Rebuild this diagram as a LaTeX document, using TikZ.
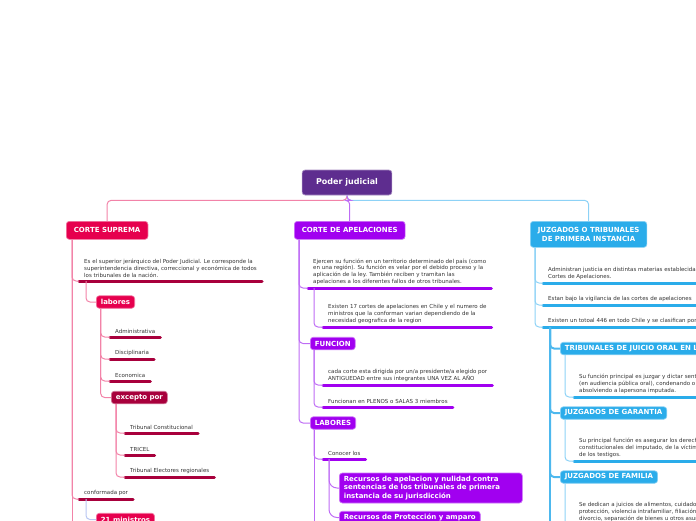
\documentclass[tikz,border=0pt]{standalone}
\usepackage{fontspec}
\setmainfont{DejaVu Sans}
\definecolor{raiz}{HTML}{5E2D8F}
\definecolor{suprema}{HTML}{E6004E}
\definecolor{supremaosc}{HTML}{A8003C}
\definecolor{supremalin}{HTML}{F283A8}
\definecolor{apelac}{HTML}{A100F0}
\definecolor{apelaclin}{HTML}{BE6CF5}
\definecolor{juzgado}{HTML}{2AACEA}
\definecolor{juzgadolin}{HTML}{8DD2F6}
\definecolor{juzgadomed}{HTML}{4DB8EE}
\definecolor{lavanda}{HTML}{B8C6F2}
\definecolor{texto}{HTML}{333333}
\newcommand{\notafont}{\fontsize{5.5}{6.8}\selectfont}
\newcommand{\cajafont}{\fontsize{7}{8.6}\selectfont\bfseries}
\tikzset{
  caja/.style={fill=#1, draw=#1!55!white, line width=0.7pt, rounded corners=3pt, text=white,
    font=\cajafont, align=left, inner xsep=4.5pt, inner ysep=0pt, minimum height=12.5pt, anchor=west},
  cajagrande/.style={caja=#1, inner xsep=7.5pt, minimum height=18pt, anchor=north west},
  nota/.style={font=\notafont, text=texto, align=left, inner xsep=5pt, inner ysep=3.2pt, anchor=south west,
    append after command={(\tikzlastnode.south west) edge[draw=#1, line width=3pt, line cap=round] (\tikzlastnode.south east)}},
  rama/.style={draw=#1, line width=1pt, rounded corners=4pt},
}
\begin{document}
\begin{tikzpicture}[x=1pt,y=-1pt]
  \useasboundingbox (0,0) rectangle (696,520);
  \clip (0,0) rectangle (696,520);

  \node[caja=raiz, font=\fontsize{8}{9}\selectfont\bfseries, inner xsep=14pt, minimum height=25pt, anchor=center] (raiz) at (347,182.5) {Poder judicial};
  \node[cajagrande=suprema] (cs) at (66,221) {CORTE SUPREMA};
  \node[cajagrande=apelac] (ca) at (294,221) {CORTE DE APELACIONES};
  \node[cajagrande=juzgado, align=center, minimum height=26pt] (jz) at (530,221) {JUZGADOS O TRIBUNALES\\DE PRIMERA INSTANCIA};

  \draw[rama=supremalin] (raiz.south) -- ++(0,5) -| (cs.north);
  \draw[rama=juzgadolin] (raiz.south) -- ++(0,5) -| (jz.north);
  \draw[rama=apelaclin] (raiz.south) -- ++(0,5) -| (ca.north);

  % corte suprema
  \node[nota=supremaosc] (cs1) at (79,281) {Es el superior jerárquico del Poder Judicial. Le corresponde la\\superintendencia directiva, correccional y económica de todos\\los tribunales de la nación.};
  \node[caja=suprema] (cslab) at (96,302) {labores};
  \node[nota=supremaosc] (adm) at (110,337) {Administrativa};
  \node[nota=supremaosc] (dis) at (110,359) {Disciplinaria};
  \node[nota=supremaosc] (eco) at (110,381) {Economica};
  \node[caja=supremaosc] (exc) at (111,397.5) {excepto por};
  \node[nota=supremaosc] (tc) at (125,433) {Tribunal Constitucional};
  \node[nota=supremaosc] (tri) at (125,455) {TRICEL};
  \node[nota=supremaosc] (ter) at (125,477) {Tribunal Electores regionales};
  \node[nota=supremaosc] (conf) at (79,499) {conformada por};
  \node[caja=suprema] (min) at (96,519.5) {21 ministros};
  \coordinate (csfin) at (72,530);

  \draw[rama=supremalin] ([xshift=6pt]cs.south west) -- (csfin);
  \foreach \n in {cs1,conf} \draw[rama=supremalin] ([xshift=6pt]cs.south west) |- (\n.south west);
  \draw[rama=supremalin] ([xshift=7pt]cs1.south west) |- (cslab.west);
  \foreach \n in {adm,dis,eco} \draw[rama=supremalin] ([xshift=4.7pt]cslab.south west) |- (\n.south west);
  \draw[rama=supremalin] ([xshift=4.7pt]cslab.south west) |- (exc.west);
  \foreach \n in {tc,tri,ter} \draw[rama=supremalin] ([xshift=5pt]exc.south west) |- (\n.south west);
  \draw[rama=lavanda] ([xshift=7pt]conf.south west) |- (min.west);

  % corte de apelaciones
  \node[nota=apelac] (ca1) at (308,288) {Ejercen su función en un territorio determinado del país (como\\en una región). Su función es velar por el debido proceso y la\\aplicación de la ley. También reciben y tramitan las\\apelaciones a los diferentes fallos de otros tribunales.};
  \node[nota=apelac] (ca2) at (323,327) {Existen 17 cortes de apelaciones en Chile y el numero de\\ministros que la conforman varian dependiendo de la\\necesidad geografica de la region};
  \node[caja=apelac] (fun) at (310,343.5) {FUNCION};
  \node[nota=apelac] (fun1) at (323,385) {cada corte esta dirigida por un/a presidente/a elegido por\\ANTIGUEDAD entre sus integrantes UNA VEZ AL AÑO};
  \node[nota=apelac] (fun2) at (323,407) {Funcionan en PLENOS o SALAS 3 miembros};
  \node[caja=apelac] (lab2) at (310,423) {LABORES};
  \node[nota=apelac] (con) at (323,459) {Conocer los};
  \node[caja=apelac, minimum height=30pt, text width=174pt, font=\fontsize{7}{8.4}\selectfont\bfseries] (rec1) at (339,488) {Recursos de apelacion y nulidad contra\\sentencias de los tribunales de primera\\instancia de su jurisdicción};
  \node[caja=apelac] (rec2) at (339,517.5) {Recursos de Protección y amparo};
  \coordinate (cafin) at (314,530);

  \draw[rama=apelaclin] ([xshift=5pt]ca.south west) |- (ca1.south west);
  \draw[rama=apelaclin] ([xshift=5pt]ca.south west) |- (fun.west);
  \draw[rama=apelaclin] ([xshift=5pt]ca.south west) |- (lab2.west);
  \draw[rama=apelaclin] ([xshift=6pt]ca1.south west) |- (ca2.south west);
  \foreach \n in {fun1,fun2} \draw[rama=apelaclin] ([xshift=4pt]fun.south west) |- (\n.south west);
  \draw[rama=apelaclin] ([xshift=4pt]lab2.south west) |- (con.south west);
  \draw[rama=apelaclin] ([xshift=4pt]lab2.south west) -- (cafin);
  \foreach \n in {rec1,rec2} \draw[rama=apelaclin, rounded corners=8pt] ([xshift=6pt]con.south west) |- (\n.west);

  % juzgados
  \node[nota=juzgado] (jz1) at (543,283) {Administran justicia en distintas materias establecidas por ley y son supervisados por las\\Cortes de Apelaciones.};
  \node[nota=juzgado] (jz2) at (543,305) {Estan bajo la vigilancia de las cortes de apelaciones};
  \node[nota=juzgado] (jz3) at (543,327) {Existen un totoal 446 en todo Chile y se clasifican por:};
  \node[caja=juzgado] (jo) at (560,348.5) {TRIBUNALES DE JUICIO ORAL EN LO PENAL};
  \node[nota=juzgado] (jo1) at (574,397) {Su función principal es juzgar y dictar sentencia\\(en audiencia pública oral), condenando o\\absolviendo a lapersona imputada.};
  \node[caja=juzgado] (jg) at (560,413) {JUZGADOS DE GARANTIA};
  \node[nota=juzgado] (jg1) at (574,461) {Su principal función es asegurar los derechos\\constitucionales del imputado, de la víctima y\\de los testigos.};
  \node[caja=juzgado] (jf) at (560,477) {JUZGADOS DE FAMILIA};
  \node[nota=juzgado] (jf1) at (574,525) {Se dedican a juicios de alimentos, cuidado personal,\\protección, violencia intrafamiliar, filiación, adopción,\\divorcio, separación de bienes u otros asuntos.};
  \coordinate (jzfin) at (550,530);

  \foreach \n in {jz1,jz2,jz3} \draw[rama=juzgadolin] ([xshift=5pt]jz.south west) |- (\n.south west);
  \draw[rama=juzgadomed, line width=2.5pt] ([xshift=7pt]jz3.south west) -- (jzfin);
  \foreach \n in {jo,jg,jf} \draw[rama=juzgadomed, line width=2pt] ([xshift=7pt]jz3.south west) |- (\n.west);
  \draw[rama=juzgadolin] ([xshift=5pt]jo.south west) |- (jo1.south west);
  \draw[rama=juzgadolin] ([xshift=5pt]jg.south west) |- (jg1.south west);
  \draw[rama=juzgadolin] ([xshift=5pt]jf.south west) |- (jf1.south west);
\end{tikzpicture}
\end{document}
